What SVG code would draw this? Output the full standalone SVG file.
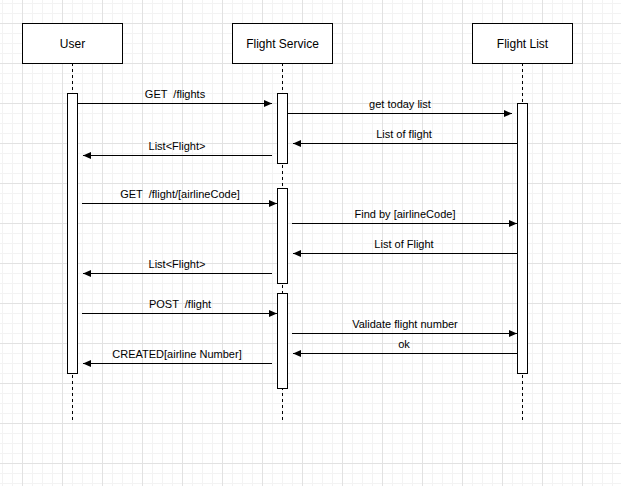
<svg xmlns="http://www.w3.org/2000/svg" width="621" height="486" viewBox="0 0 621 486">
<defs>
<pattern id="minor" x="2" y="3" width="10" height="10" patternUnits="userSpaceOnUse"><rect x="0" y="0" width="10" height="1" fill="#f3f3f3"/><rect x="0" y="0" width="1" height="10" fill="#f3f3f3"/></pattern>
<pattern id="major" x="22" y="23" width="40" height="40" patternUnits="userSpaceOnUse"><rect x="0" y="0" width="40" height="1" fill="#e2e2e2"/><rect x="0" y="0" width="1" height="40" fill="#e2e2e2"/></pattern>
<marker id="ah" markerUnits="userSpaceOnUse" markerWidth="9" markerHeight="8" refX="8" refY="3.5" orient="auto"><path d="M0,0 L8,3.5 L0,7 Z" fill="#000"/></marker>
</defs>
<style>
.box{fill:#fff;stroke:#000;stroke-width:1}
.act{fill:#fff;stroke:#000;stroke-width:1}
.life{stroke:#000;stroke-width:1;stroke-dasharray:3 3;fill:none}
.msg{stroke:#000;stroke-width:1;fill:none;marker-end:url(#ah)}
.t{font-family:"Liberation Sans",Arial,sans-serif;font-size:12px;fill:#000;text-anchor:middle}
.l{font-family:"Liberation Sans",Arial,sans-serif;font-size:11px;fill:#000;text-anchor:middle;white-space:pre}
</style>
<rect width="621" height="486" fill="#fff"/>
<rect width="621" height="486" fill="url(#minor)"/>
<rect width="621" height="486" fill="url(#major)"/>
<g id="lifelines">
<line class="life" x1="72.5" y1="63" x2="72.5" y2="420"/>
<line class="life" x1="282.5" y1="63" x2="282.5" y2="420"/>
<line class="life" x1="522.5" y1="63" x2="522.5" y2="420"/>
</g>
<g id="node-user"><rect class="box" x="22.5" y="23.5" width="100" height="40"/><text class="t" x="72.5" y="47.5">User</text></g>
<g id="node-service"><rect class="box" x="232.5" y="23.5" width="100" height="40"/><text class="t" x="282.5" y="47.5">Flight Service</text></g>
<g id="node-list"><rect class="box" x="472.5" y="23.5" width="100" height="40"/><text class="t" x="522.5" y="47.5">Flight List</text></g>
<g id="activations">
<rect class="act" x="67.5" y="93.5" width="10" height="280"/>
<rect class="act" x="277.5" y="93.5" width="10" height="70"/>
<rect class="act" x="277.5" y="188.5" width="10" height="95"/>
<rect class="act" x="277.5" y="293.5" width="10" height="95"/>
<rect class="act" x="517.5" y="103.5" width="10" height="270"/>
</g>
<g id="connectors">
<line class="msg" x1="78" y1="103.5" x2="272" y2="103.5"/>
<line class="msg" x1="288" y1="113.5" x2="512" y2="113.5"/>
<line class="msg" x1="517" y1="143.5" x2="293" y2="143.5"/>
<line class="msg" x1="272" y1="155.5" x2="83" y2="155.5"/>
<line class="msg" x1="82" y1="203.5" x2="277" y2="203.5"/>
<line class="msg" x1="292" y1="223.5" x2="517" y2="223.5"/>
<line class="msg" x1="517" y1="253.5" x2="293" y2="253.5"/>
<line class="msg" x1="272" y1="273.5" x2="83" y2="273.5"/>
<line class="msg" x1="82" y1="313.5" x2="277" y2="313.5"/>
<line class="msg" x1="292" y1="333.5" x2="517" y2="333.5"/>
<line class="msg" x1="517" y1="353.5" x2="293" y2="353.5"/>
<line class="msg" x1="272" y1="363.5" x2="83" y2="363.5"/>
</g>
<g id="labels">
<text class="l" x="175" y="98" xml:space="preserve">GET  /flights</text>
<text class="l" x="400" y="108">get today list</text>
<text class="l" x="404" y="138">List of flight</text>
<text class="l" x="177" y="150">List&lt;Flight&gt;</text>
<text class="l" x="180" y="198" xml:space="preserve">GET  /flight/[airlineCode]</text>
<text class="l" x="405" y="218">Find by [airlineCode]</text>
<text class="l" x="404" y="248">List of Flight</text>
<text class="l" x="177" y="268">List&lt;Flight&gt;</text>
<text class="l" x="180" y="308" xml:space="preserve">POST  /flight</text>
<text class="l" x="405" y="328">Validate flight number</text>
<text class="l" x="404" y="348">ok</text>
<text class="l" x="177" y="358">CREATED[airline Number]</text>
</g>
</svg>
